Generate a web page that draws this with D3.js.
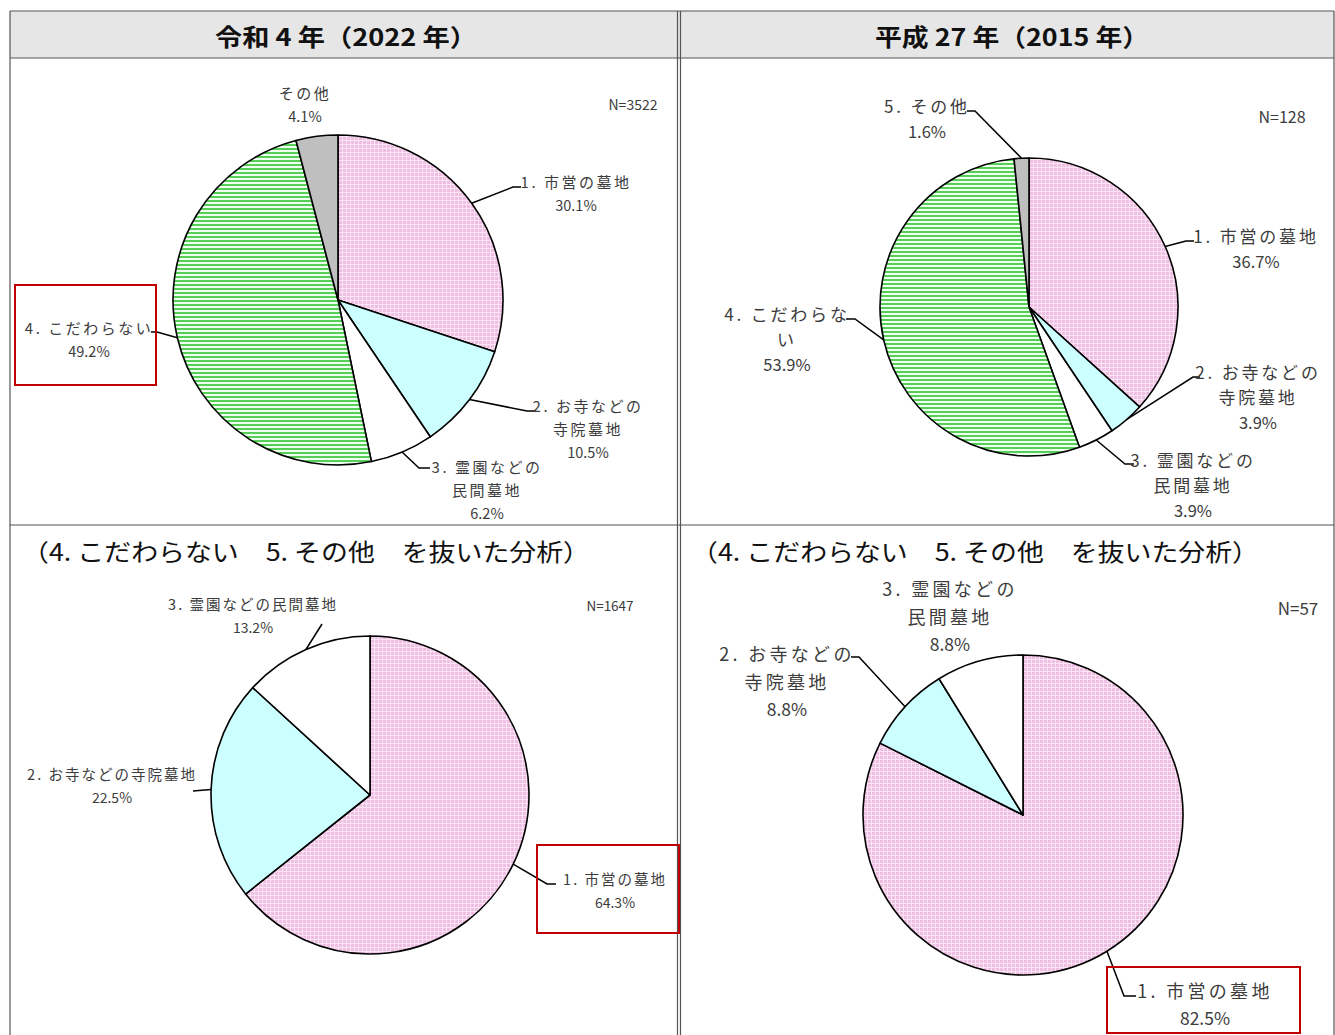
<!DOCTYPE html>
<html>
<head>
<meta charset="utf-8">
<script src="https://cdn.jsdelivr.net/npm/d3@7"></script>
<style>
  body { margin: 0; background: #fff; }
  svg { display: block; }
  text { font-family: "Noto Sans CJK JP", "Noto Sans", sans-serif; }
</style>
</head>
<body>
<div id="chart"></div>
<script>
// survey results: where people want to be buried
const headers = ["令和 4 年（2022 年）", "平成 27 年（2015 年）"];
const subTitle = "（4. こだわらない　5. その他　を抜いた分析）";

const values2022 = [30.1, 10.5, 6.2, 49.2, 4.1];
const values2015 = [36.7, 3.9, 3.9, 53.9, 1.6];
const valuesSub2022 = [64.3, 22.5, 13.2];
const valuesSub2015 = [82.5, 8.8, 8.8];
const counts = ["N=3522", "N=128", "N=1647", "N=57"];

(function() {
    const W = 1335, H = 1035;
    const svg = d3.select("#chart").append("svg").attr("width", W).attr("height", H);
    const defs = svg.append("defs");

    // checkered pink fill
    const pink = defs.append("pattern").attr("id", "pink")
        .attr("patternUnits", "userSpaceOnUse").attr("width", 4).attr("height", 4);
    pink.append("rect").attr("width", 4).attr("height", 4).attr("fill", "#efbfe3");
    pink.append("rect").attr("width", 4).attr("height", 1).attr("fill", "#fbe5f5");
    pink.append("rect").attr("width", 1).attr("height", 4).attr("fill", "#fbe5f5");

    // horizontal green stripes
    const green = defs.append("pattern").attr("id", "green")
        .attr("patternUnits", "userSpaceOnUse").attr("width", 4).attr("height", 4);
    green.append("rect").attr("width", 4).attr("height", 4).attr("fill", "#effff0");
    green.append("rect").attr("width", 4).attr("height", 2).attr("fill", "#55cf55");

    const fills = ["url(#pink)", "#ccffff", "#ffffff", "url(#green)", "#bfbfbf"];

    // table frame
    const left = 10, mid = 679, right = 1334, top = 11, headBottom = 58, rowLine = 525;
    svg.append("rect").attr("x", left).attr("y", top).attr("width", right - left).attr("height", headBottom - top)
        .attr("fill", "#e6e6e6");
    const frame = svg.append("g").attr("stroke", "#555").attr("stroke-width", 1.2).attr("fill", "none");
    frame.append("line").attr("x1", left).attr("x2", right).attr("y1", top).attr("y2", top);
    frame.append("line").attr("x1", left).attr("x2", right).attr("y1", headBottom).attr("y2", headBottom);
    frame.append("line").attr("x1", left).attr("x2", right).attr("y1", rowLine).attr("y2", rowLine);
    frame.append("line").attr("x1", left).attr("x2", left).attr("y1", top).attr("y2", H);
    frame.append("line").attr("x1", mid - 1.5).attr("x2", mid - 1.5).attr("y1", top).attr("y2", H);
    frame.append("line").attr("x1", mid + 1.5).attr("x2", mid + 1.5).attr("y1", top).attr("y2", H);
    frame.append("line").attr("x1", right).attr("x2", right).attr("y1", top).attr("y2", H);

    const headCenters = [346, 1012];
    const headLengths = [262, 274];
    headers.forEach((h, i) => {
        svg.append("text").attr("x", headCenters[i]).attr("y", 35)
            .attr("text-anchor", "middle").attr("dominant-baseline", "central")
            .attr("font-size", 24).attr("font-weight", "bold").attr("fill", "#111")
            .attr("textLength", headLengths[i]).attr("lengthAdjust", "spacingAndGlyphs")
            .text(h);
    });
    [22, 691].forEach(x => {
        svg.append("text").attr("x", x).attr("y", 550)
            .attr("dominant-baseline", "central")
            .attr("font-size", 24).attr("fill", "#111")
            .attr("textLength", 568).attr("lengthAdjust", "spacingAndGlyphs")
            .text(subTitle);
    });

    const pct = v => d3.format(".1f")(v) + "%";

    const panels = [
        {
            values: values2022, cx: 338, cy: 300, r: 165, font: 15, ls: 2.5, lh: 23,
            n: counts[0], nPos: [633, 104],
            labels: [
                {i: 0, lines: ["1. 市営の墓地"], x: 576, y: 181, leader: [[513, 187], [521, 187]]},
                {i: 1, lines: ["2. お寺などの", "寺院墓地"], x: 588, y: 405, leader: [[527, 411], [536, 411]]},
                {i: 2, lines: ["3. 霊園などの", "民間墓地"], x: 487, y: 466, leader: [[419, 468], [430, 468]]},
                {i: 3, lines: ["4. こだわらない"], x: 89, y: 327, leader: [[157, 332], [151, 332]]},
                {i: 4, lines: ["その他"], x: 305, y: 92}
            ],
            box: [15, 285, 141, 100]
        },
        {
            values: values2015, cx: 1029, cy: 307, r: 149, font: 17, ls: 2.8, lh: 25.5,
            n: counts[1], nPos: [1282, 116],
            labels: [
                {i: 0, lines: ["1. 市営の墓地"], x: 1256, y: 235, leader: [[1186, 241], [1194, 241]]},
                {i: 1, lines: ["2. お寺などの", "寺院墓地"], x: 1258, y: 371, leader: [[1193, 377], [1200, 377]]},
                {i: 2, lines: ["3. 霊園などの", "民間墓地"], x: 1193, y: 459, leader: [[1125, 464], [1134, 464]]},
                {i: 3, lines: ["4. こだわらな", "い"], x: 787, y: 313, leader: [[855, 319], [846, 319]]},
                {i: 4, lines: ["5. その他"], x: 927, y: 105, leader: [[975, 111], [967, 111]]}
            ]
        },
        {
            values: valuesSub2022, cx: 370, cy: 795, r: 159, font: 14.5, ls: 2, lh: 24,
            n: counts[2], nPos: [610, 605],
            labels: [
                {i: 0, lines: ["1. 市営の墓地"], x: 615, y: 878, leader: [[547, 884], [556, 884]]},
                {i: 1, lines: ["2. お寺などの寺院墓地"], x: 112, y: 773, leader: [[193, 791], [193, 791]]},
                {i: 2, lines: ["3. 霊園などの民間墓地"], x: 253, y: 603, leader: [[322, 624], [322, 624]]}
            ],
            box: [537, 845, 142, 88]
        },
        {
            values: valuesSub2015, cx: 1023, cy: 815, r: 160, font: 18, ls: 3.3, lh: 27.5,
            n: counts[3], nPos: [1298, 607],
            labels: [
                {i: 0, lines: ["1. 市営の墓地"], x: 1205, y: 990, leader: [[1124, 996], [1136, 996]]},
                {i: 1, lines: ["2. お寺などの", "寺院墓地"], x: 787, y: 653, leader: [[859, 657], [851, 657]]},
                {i: 2, lines: ["3. 霊園などの", "民間墓地"], x: 950, y: 588}
            ],
            box: [1107, 967, 193, 66]
        }
    ];

    const pie = d3.pie().sort(null).value(d => d);

    panels.forEach(p => {
        const g = svg.append("g");
        const arcs = pie(p.values);
        const arc = d3.arc().innerRadius(0).outerRadius(p.r);

        g.append("g").attr("transform", `translate(${p.cx},${p.cy})`)
            .selectAll("path")
            .data(arcs)
            .enter().append("path")
            .attr("d", arc)
            .attr("fill", (d, i) => fills[i])
            .attr("stroke", "#000")
            .attr("stroke-width", 1.6)
            .attr("stroke-linejoin", "round");

        // labels with leader lines from each slice's mid angle on the rim
        p.labels.forEach(lb => {
            const a = arcs[lb.i];
            if (lb.leader) {
                const mid = (a.startAngle + a.endAngle) / 2;
                const rim = [p.cx + p.r * Math.sin(mid), p.cy - p.r * Math.cos(mid)];
                g.append("path")
                    .attr("d", d3.line()([rim, ...lb.leader]))
                    .attr("fill", "none").attr("stroke", "#000").attr("stroke-width", 1.5);
            }
            const lines = lb.lines.concat([pct(p.values[lb.i])]);
            lines.forEach((t, k) => {
                const isPct = k === lines.length - 1;
                g.append("text")
                    .attr("x", lb.x).attr("y", lb.y + k * p.lh)
                    .attr("text-anchor", "middle").attr("dominant-baseline", "central")
                    .attr("font-size", isPct ? p.font - 0.5 : p.font)
                    .attr("letter-spacing", isPct ? 0 : p.ls)
                    .attr("fill", "#3c3c3c")
                    .text(t);
            });
        });

        g.append("text")
            .attr("x", p.nPos[0]).attr("y", p.nPos[1])
            .attr("text-anchor", "middle").attr("dominant-baseline", "central")
            .attr("font-size", p.font - 1).attr("fill", "#3c3c3c")
            .text(p.n);

        if (p.box) {
            g.append("rect")
                .attr("x", p.box[0]).attr("y", p.box[1]).attr("width", p.box[2]).attr("height", p.box[3])
                .attr("fill", "none").attr("stroke", "#c00000").attr("stroke-width", 2);
        }
    });
})();
</script>
</body>
</html>
